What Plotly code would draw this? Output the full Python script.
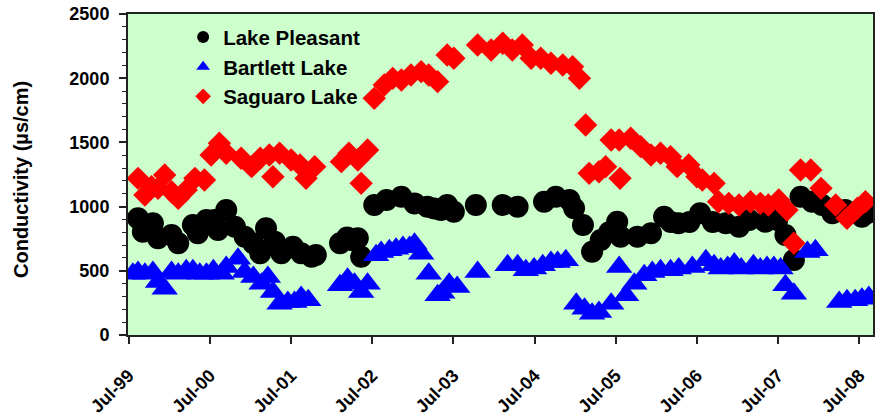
import plotly.graph_objects as go

# ---------------- data ----------------
pleasant_dates = [
    "1999-08-12", "1999-09-03", "1999-10-18", "1999-11-10", "2000-01-10", "2000-02-09",
    "2000-04-15", "2000-05-07", "2000-06-15", "2000-07-21", "2000-08-06", "2000-09-12",
    "2000-10-21", "2000-12-04", "2001-01-12", "2001-02-12", "2001-03-10", "2001-04-18",
    "2001-05-18", "2001-07-09", "2001-08-15", "2001-10-01", "2001-10-20",
    "2002-02-06", "2002-03-10", "2002-03-28", "2002-04-27", "2002-05-12", "2002-07-10",
    "2002-09-03", "2002-11-09", "2003-01-07", "2003-03-06", "2003-04-06", "2003-05-06",
    "2003-06-03", "2003-07-03", "2003-10-10", "2004-02-08", "2004-04-15", "2004-08-12",
    "2004-10-04", "2004-12-04", "2004-12-25", "2005-02-03", "2005-03-16", "2005-04-24",
    "2005-06-01", "2005-07-07", "2005-07-22", "2005-10-06", "2005-12-06", "2006-02-03",
    "2006-03-05", "2006-04-09", "2006-05-28", "2006-07-15", "2006-09-10", "2006-11-07",
    "2007-01-06", "2007-02-21", "2007-05-04", "2007-06-27", "2007-08-03", "2007-09-10",
    "2007-10-10", "2007-12-01", "2008-01-15", "2008-03-01", "2008-04-28", "2008-07-12",
    "2008-08-05",
]
pleasant_values = [
    909, 805, 870, 753, 779, 714,
    857, 792, 896, 896, 818, 974,
    843, 766, 714, 636, 831, 727,
    636, 688, 636, 610, 623,
    714, 760, 740, 753, 610, 1012,
    1051, 1077, 1025, 999, 985, 974,
    1012, 960, 1012, 1012, 999, 1038,
    1077, 1051, 987, 857, 649, 740,
    800, 882, 766, 766, 792, 921,
    880, 870, 880, 948, 880, 870,
    843, 896, 882, 896, 779, 584,
    1077, 1038, 1012, 948, 974, 921,
    950,
]

bartlett_dates = [
    "1999-07-20", "1999-08-12", "1999-09-12", "1999-10-18", "1999-11-10", "1999-12-10",
    "2000-01-10", "2000-02-09", "2000-03-16", "2000-04-15", "2000-05-16", "2000-06-15",
    "2000-07-16", "2000-08-22", "2000-09-12", "2000-11-04", "2000-12-04", "2001-01-12",
    "2001-02-18", "2001-03-18", "2001-04-10", "2001-05-10", "2001-06-16", "2001-07-16",
    "2001-08-15", "2001-09-16",
    "2002-02-06", "2002-03-12", "2002-04-12", "2002-05-12", "2002-06-10", "2002-07-18",
    "2002-08-10", "2002-09-16", "2002-10-16", "2002-11-16", "2002-12-16", "2003-01-07",
    "2003-02-06", "2003-03-12", "2003-04-21", "2003-05-12", "2003-06-12", "2003-07-18",
    "2003-10-18", "2004-03-01", "2004-04-15", "2004-05-22", "2004-06-28", "2004-08-06",
    "2004-09-12", "2004-10-12", "2004-11-18", "2005-01-04", "2005-02-10", "2005-03-16",
    "2005-04-16", "2005-06-10", "2005-07-16", "2005-08-16", "2005-09-22", "2005-11-06",
    "2005-12-12", "2006-01-18", "2006-03-04", "2006-04-10", "2006-06-10", "2006-08-10",
    "2006-09-16", "2006-10-16", "2006-11-16", "2006-12-16", "2007-01-16", "2007-03-12",
    "2007-04-12", "2007-05-12", "2007-06-12", "2007-07-12", "2007-08-03", "2007-09-10",
    "2007-11-10", "2007-12-16", "2008-04-01", "2008-05-06", "2008-06-12", "2008-07-12",
    "2008-08-12",
]
bartlett_values = [
    477, 491, 477, 491, 413, 361,
    491, 477, 504, 504, 477, 477,
    504, 477, 530, 594, 491, 452,
    400, 452, 335, 244, 257, 257,
    296, 270,
    387, 438, 400, 335, 400, 621,
    646, 660, 672, 685, 685, 711,
    633, 477, 309, 330, 400, 374,
    491, 543, 543, 504, 517, 543,
    569, 569, 582, 244, 205, 166,
    179, 244, 530, 309, 400, 465,
    491, 504, 504, 517, 530, 582,
    543, 517, 530, 556, 517, 543,
    517, 530, 530, 517, 387, 322,
    646, 660, 257, 270, 270, 283,
    296,
]

saguaro_dates = [
    "1999-08-12", "1999-09-12", "1999-10-12", "1999-11-10", "1999-12-10", "2000-01-10",
    "2000-02-09", "2000-03-16", "2000-04-24", "2000-06-06", "2000-07-06", "2000-08-12",
    "2000-09-12", "2000-11-18", "2001-01-04", "2001-02-12", "2001-03-25", "2001-04-10",
    "2001-05-10", "2001-07-01", "2001-08-10", "2001-09-06", "2001-10-15",
    "2002-02-12", "2002-03-18", "2002-04-27", "2002-05-12", "2002-06-10", "2002-07-10",
    "2002-08-24", "2002-10-01", "2002-11-09", "2002-12-22", "2003-02-06", "2003-03-12",
    "2003-04-21", "2003-06-03", "2003-07-03", "2003-10-18", "2003-12-18", "2004-02-08",
    "2004-03-22", "2004-05-06", "2004-06-15", "2004-07-28", "2004-09-12", "2004-11-04",
    "2004-12-18", "2005-01-18", "2005-02-15", "2005-03-03", "2005-04-16", "2005-05-16",
    "2005-06-10", "2005-07-16", "2005-07-20", "2005-09-06", "2005-10-21", "2005-12-06",
    "2006-01-18", "2006-03-04", "2006-04-03", "2006-05-25", "2006-07-01", "2006-07-25",
    "2006-09-16", "2006-10-06", "2006-11-21", "2007-01-06", "2007-02-27", "2007-04-12",
    "2007-05-18", "2007-07-04", "2007-08-10", "2007-09-10", "2007-10-10", "2007-11-25",
    "2008-01-10", "2008-03-16", "2008-05-06", "2008-06-22", "2008-07-28",
]
saguaro_values = [
    1220, 1090, 1155, 1142, 1246, 1116,
    1064, 1129, 1220, 1207, 1402, 1493,
    1415, 1376, 1311, 1376, 1402, 1233,
    1415, 1363, 1324, 1220, 1311,
    1350, 1415, 1363, 1181, 1441, 1843,
    1947, 1999, 1986, 2025, 2051, 2025,
    1973, 2181, 2155, 2258, 2220, 2272,
    2220, 2258, 2155, 2155, 2116, 2103,
    2090, 1999, 1636, 1259, 1272, 1311,
    1519, 1519, 1220, 1532, 1467, 1402,
    1415, 1389, 1311, 1324, 1233, 1207,
    1181, 1038, 1025, 1012, 1038, 1025,
    1012, 1051, 974, 714, 1285, 1285,
    1142, 1012, 909, 987, 1038,
]

tick_dates = ["1999-07-01", "2000-07-01", "2001-07-01", "2002-07-01", "2003-07-01",
              "2004-07-01", "2005-07-01", "2006-07-01", "2007-07-01", "2008-07-01"]
tick_labels = ["Jul-99", "Jul-00", "Jul-01", "Jul-02", "Jul-03",
               "Jul-04", "Jul-05", "Jul-06", "Jul-07", "Jul-08"]

series_names = ["Lake Pleasant", "Bartlett Lake", "Saguaro Lake"]

# ---------------- figure ----------------
FONT = "Arial, Liberation Sans, sans-serif"

fig = go.Figure()
fig.add_trace(go.Scatter(
    x=pleasant_dates, y=pleasant_values, mode="markers", name=series_names[0],
    marker=dict(symbol="circle", size=22, color="#000000", line=dict(width=0)),
))
fig.add_trace(go.Scatter(
    x=bartlett_dates, y=bartlett_values, mode="markers", name=series_names[1],
    marker=dict(symbol="triangle-up", size=23, color="#0000FF", line=dict(width=0)),
))
fig.add_trace(go.Scatter(
    x=saguaro_dates, y=saguaro_values, mode="markers", name=series_names[2],
    marker=dict(symbol="diamond", size=18, color="#FF0000", line=dict(width=0)),
))

fig.update_layout(
    width=875, height=416,
    margin=dict(l=128, r=2, t=14, b=81, autoexpand=False),
    paper_bgcolor="white",
    plot_bgcolor="#CCFFCC",
    font=dict(family=FONT, size=18, color="black", weight="bold"),
    showlegend=True,
    legend=dict(
        x=0.074, y=0.99, xanchor="left", yanchor="top",
        bgcolor="rgba(0,0,0,0)", borderwidth=0,
        font=dict(family=FONT, size=20.5, color="black", weight="bold"),
        itemsizing="constant", tracegroupgap=0,
    ),
    xaxis=dict(
        type="date",
        range=["1999-06-28", "2008-08-31"],
        tickmode="array", tickvals=tick_dates, ticktext=tick_labels,
        tickangle=-45,
        ticks="outside", ticklen=7, tickwidth=1.5, tickcolor="#222",
        showline=True, linecolor="#222", linewidth=2, mirror=True,
        showgrid=False, zeroline=False,
        tickfont=dict(family=FONT, size=18, color="black", weight="bold"),
        ticklabelstandoff=14,
    ),
    yaxis=dict(
        range=[0, 2500], dtick=500, tick0=0,
        ticks="outside", ticklen=7, tickwidth=1.5, tickcolor="#222",
        minor=dict(dtick=100, ticks="outside", ticklen=4, tickwidth=1, tickcolor="#222", showgrid=False),
        showline=True, linecolor="#222", linewidth=2, mirror=True,
        showgrid=False, zeroline=False,
        tickfont=dict(family=FONT, size=18, color="black", weight="bold"),
        ticklabelstandoff=6,
    ),
    annotations=[dict(
        text="Conductivity (µs/cm)", textangle=-90,
        xref="paper", yref="paper", x=-0.1436, y=0.483,
        xanchor="center", yanchor="middle", showarrow=False,
        font=dict(family=FONT, size=20, color="black", weight="bold"),
    )],
)

fig.write_html("out.html")
